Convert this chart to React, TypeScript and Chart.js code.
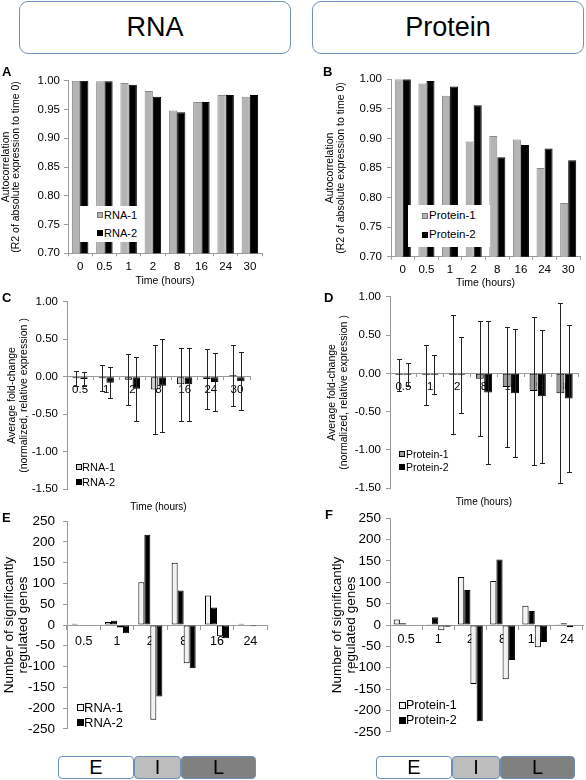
import React, { useEffect, useRef } from 'react';
import { Chart, registerables } from 'chart.js';
Chart.register(...registerables);

const FONT = "'Liberation Sans', Arial, Helvetica, sans-serif";
const AXIS = '#9a9a9a';

// ---- Panel A / B: autocorrelation ----
const autoCats = ['0', '0.5', '1', '2', '8', '16', '24', '30'];
const rnaAuto1 = [1.0, 0.999, 0.996, 0.982, 0.948, 0.963, 0.975, 0.972];
const rnaAuto2 = [1.0, 0.999, 0.993, 0.972, 0.945, 0.963, 0.975, 0.975];
const protAuto1 = [1.0, 0.993, 0.972, 0.895, 0.904, 0.898, 0.85, 0.791];
const protAuto2 = [1.0, 0.997, 0.988, 0.956, 0.868, 0.889, 0.883, 0.863];

// ---- Panel C / D: average fold-change (mean, sd) ----
const foldCats = ['0.5', '1', '2', '8', '16', '24', '30'];
const rnaFold1 = [-0.02, -0.02, -0.04, -0.17, -0.1, -0.03, 0.02];
const rnaFoldSd1 = [0.1, 0.175, 0.34, 0.6, 0.49, 0.4, 0.41];
const rnaFold2 = [-0.03, -0.08, -0.16, -0.12, -0.1, -0.07, -0.06];
const rnaFoldSd2 = [0.1, 0.21, 0.43, 0.62, 0.49, 0.39, 0.39];
const protFold1 = [-0.02, -0.02, -0.02, -0.07, -0.18, -0.23, -0.26];
const protFoldSd1 = [0.21, 0.39, 0.78, 0.755, 0.79, 0.97, 1.18];
const protFold2 = [-0.02, -0.02, -0.02, -0.25, -0.26, -0.3, -0.33];
const protFoldSd2 = [0.15, 0.255, 0.5, 0.93, 0.84, 0.87, 0.965];

// ---- Panel E / F: number of significantly regulated genes ----
const regCats = ['0.5', '1', '2', '8', '16', '24'];
const rnaUp1 = [3, 7, 103, 150, 71, 3];
const rnaUp2 = [0, 10, 217, 83, 42, 0];
const rnaDown1 = [0, -6, -228, -92, -27, -3];
const rnaDown2 = [0, -20, -172, -104, -32, 0];
const protUp1 = [13, 2, 112, 103, 45, 2];
const protUp2 = [4, 18, 82, 153, 33, 4];
const protDown1 = [0, -12, -138, -127, -52, -5];
const protDown2 = [0, -4, -225, -82, -40, 0];

type Rect = { x: number; y: number; w: number; h: number };
type Area = { l: number; t: number; r: number; b: number };

function makeErrorBars(errors: number[][]) {
  return {
    id: 'errorBars',
    afterDatasetsDraw(chart: any) {
      const ctx = chart.ctx;
      const ys = chart.scales.y;
      ctx.save();
      ctx.strokeStyle = '#222';
      ctx.lineWidth = 1;
      const cap = 2.5;
      chart.data.datasets.forEach((ds: any, di: number) => {
        const e = errors[di];
        if (!e) return;
        const meta = chart.getDatasetMeta(di);
        meta.data.forEach((el: any, i: number) => {
          const v = ds.data[i];
          const x = Math.round(el.x) + 0.5;
          const t = Math.round(ys.getPixelForValue(v + e[i])) + 0.5;
          const b = Math.round(ys.getPixelForValue(v - e[i])) + 0.5;
          ctx.beginPath();
          ctx.moveTo(x, t); ctx.lineTo(x, b);
          ctx.moveTo(x - cap, t); ctx.lineTo(x + cap, t);
          ctx.moveTo(x - cap, b); ctx.lineTo(x + cap, b);
          ctx.stroke();
        });
      });
      ctx.restore();
    },
  };
}

interface Spec {
  rect: Rect;
  area: Area;
  cats: string[];
  datasets: any[];
  yMin: number; yMax: number; yStep: number; yDec: number;
  yFont: number; yTickLen: number; yPad: number;
  yTitle: string[]; yTitleFont: number; yTitleLH: number; yTitleX: number;
  xFont: number; xTickLen: number; xPad: number; xAtZero: boolean;
  xTitle?: { y: number; font: number };
  errors?: number[][];
}

function buildConfig(s: Spec) {
  const padTop = s.area.t - s.rect.y;
  const padRight = s.rect.x + s.rect.w - s.area.r;
  const yWidth = s.area.l - s.rect.x;
  const bottomSpace = s.rect.y + s.rect.h - s.area.b;
  const yLine = s.yTitleFont * s.yTitleLH;
  const xTitleCfg = s.xTitle
    ? {
        display: true,
        text: 'Time (hours)',
        color: '#000',
        font: { family: FONT, size: s.xTitle.font, lineHeight: 1.2 },
        padding: { top: 0, bottom: s.rect.y + s.rect.h - s.xTitle.y - (s.xTitle.font * 1.2) / 2 },
      }
    : { display: false };
  const scales: any = {
    y: {
      type: 'linear',
      min: s.yMin,
      max: s.yMax,
      ticks: {
        stepSize: s.yStep,
        color: '#000',
        padding: s.yPad,
        font: { family: FONT, size: s.yFont },
        callback: (v: any) => (Math.abs(Number(v)) < 1e-9 ? 0 : Number(v)).toFixed(s.yDec),
      },
      grid: { drawOnChartArea: false, drawTicks: true, tickLength: s.yTickLen, color: AXIS },
      border: { color: AXIS, width: 1 },
      title: {
        display: true,
        text: s.yTitle,
        color: '#000',
        font: { family: FONT, size: s.yTitleFont, lineHeight: s.yTitleLH },
        padding: { top: s.yTitleX - s.rect.x - yLine / 2, bottom: 0 },
      },
      afterFit: (sc: any) => { sc.width = yWidth; },
    },
    x: {
      type: 'category',
      grid: { drawOnChartArea: false, drawTicks: true, tickLength: s.xTickLen, color: AXIS, offset: true },
      border: { color: AXIS, width: 1 },
      ticks: { color: '#000', padding: s.xPad, maxRotation: 0, autoSkip: false, font: { family: FONT, size: s.xFont } },
    },
  };
  let padBottom = 0;
  if (s.xAtZero) {
    scales.x.position = { y: 0 };
    if (s.xTitle) {
      scales.x2 = {
        type: 'category',
        position: 'bottom',
        labels: s.cats,
        grid: { display: false, drawTicks: false },
        border: { display: false },
        ticks: { display: false },
        title: xTitleCfg,
        afterFit: (sc: any) => { sc.height = bottomSpace; },
      };
    } else {
      padBottom = bottomSpace;
    }
  } else {
    scales.x.title = xTitleCfg;
    scales.x.afterFit = (sc: any) => { sc.height = bottomSpace; };
  }
  return {
    type: 'bar',
    data: { labels: s.cats, datasets: s.datasets },
    options: {
      responsive: false,
      animation: false,
      devicePixelRatio: 1,
      layout: { padding: { top: padTop, right: padRight, left: 0, bottom: padBottom } },
      plugins: { legend: { display: false }, tooltip: { enabled: false } },
      scales,
    },
    plugins: s.errors ? [makeErrorBars(s.errors)] : [],
  };
}

function ChartBox({ spec }: { spec: Spec }) {
  const ref = useRef<HTMLCanvasElement>(null);
  useEffect(() => {
    const c = new Chart(ref.current as HTMLCanvasElement, buildConfig(spec) as any);
    return () => c.destroy();
  }, []);
  const r = spec.rect;
  return (
    <canvas
      ref={ref}
      width={r.w}
      height={r.h}
      style={{ position: 'absolute', left: r.x, top: r.y, width: r.w, height: r.h }}
    />
  );
}

function bar(label: string, data: number[], fill: string, stroke: string, cp: number, bp: number) {
  return {
    label,
    data,
    backgroundColor: fill,
    borderColor: stroke,
    borderWidth: 1,
    borderSkipped: false,
    categoryPercentage: cp,
    barPercentage: bp,
  };
}

const GRAY_A = '#b4b4b4';
const GRAY_C = '#cfcfcf';
const GRAY_D = '#9c9c9c';
const LIGHT_E = '#f2f2ee';

const specA: Spec = {
  rect: { x: 0, y: 62, w: 272, h: 226 },
  area: { l: 68, t: 80.7, r: 262, b: 253.3 },
  cats: autoCats,
  datasets: [
    bar('RNA-1', rnaAuto1, GRAY_A, '#8a8a8a', 0.68, 1),
    bar('RNA-2', rnaAuto2, '#000', '#000', 0.68, 1),
  ],
  yMin: 0.7, yMax: 1.0, yStep: 0.05, yDec: 2, yFont: 11.5, yTickLen: 4, yPad: 4,
  yTitle: ['Autocorrelation', '(R2 of absolute expression to time 0)'], yTitleFont: 10.5, yTitleLH: 1.0, yTitleX: 6,
  xFont: 11.5, xTickLen: 3, xPad: 3.5, xAtZero: false,
  xTitle: { y: 280.7, font: 10.5 },
};

const specB: Spec = {
  rect: { x: 293, y: 62, w: 293, h: 229 },
  area: { l: 391, t: 79.3, r: 580, b: 256.7 },
  cats: autoCats,
  datasets: [
    bar('Protein-1', protAuto1, GRAY_A, '#8a8a8a', 0.68, 1),
    bar('Protein-2', protAuto2, '#000', '#000', 0.68, 1),
  ],
  yMin: 0.7, yMax: 1.0, yStep: 0.05, yDec: 2, yFont: 11.5, yTickLen: 4, yPad: 5,
  yTitle: ['Autocorrelation', '(R2 of absolute expression to time 0)'], yTitleFont: 10.5, yTitleLH: 1.1, yTitleX: 330,
  xFont: 11.5, xTickLen: 3, xPad: 3.4, xAtZero: false,
  xTitle: { y: 282.7, font: 10.5 },
};

const specC: Spec = {
  rect: { x: 0, y: 290, w: 270, h: 224 },
  area: { l: 67, t: 300.5, r: 250, b: 489 },
  cats: foldCats,
  datasets: [
    bar('RNA-1', rnaFold1, GRAY_C, '#000', 0.6, 0.95),
    bar('RNA-2', rnaFold2, '#000', '#000', 0.6, 0.95),
  ],
  yMin: -1.5, yMax: 1.0, yStep: 0.5, yDec: 2, yFont: 11.5, yTickLen: 4, yPad: 5,
  yTitle: ['Average fold-change', '(normalized, relative expression )'], yTitleFont: 10.5, yTitleLH: 1.07, yTitleX: 12.5,
  xFont: 11.5, xTickLen: 3, xPad: 3.4, xAtZero: true,
  xTitle: { y: 507, font: 10 },
  errors: [rnaFoldSd1, rnaFoldSd2],
};

const specD: Spec = {
  rect: { x: 293, y: 285, w: 293, h: 224 },
  area: { l: 390, t: 295, r: 578, b: 488 },
  cats: foldCats,
  datasets: [
    bar('Protein-1', protFold1, GRAY_D, '#000', 0.62, 0.95),
    bar('Protein-2', protFold2, '#000', '#000', 0.62, 0.95),
  ],
  yMin: -1.5, yMax: 1.0, yStep: 0.5, yDec: 2, yFont: 11.5, yTickLen: 4, yPad: 5,
  yTitle: ['Average fold-change', '(normalized, relative expression )'], yTitleFont: 10.5, yTitleLH: 1.2, yTitleX: 331.7,
  xFont: 11.5, xTickLen: 3, xPad: 3.8, xAtZero: true,
  xTitle: { y: 502, font: 10 },
  errors: [protFoldSd1, protFoldSd2],
};

const specE: Spec = {
  rect: { x: 0, y: 505, w: 275, h: 240 },
  area: { l: 67, t: 517.3, r: 267, b: 736.7 },
  cats: regCats,
  datasets: [
    bar('RNA-1 up', rnaUp1, LIGHT_E, '#000', 0.72, 1),
    bar('RNA-2 up', rnaUp2, '#000', '#000', 0.72, 1),
    bar('RNA-1 down', rnaDown1, LIGHT_E, '#000', 0.72, 1),
    bar('RNA-2 down', rnaDown2, '#000', '#000', 0.72, 1),
  ],
  yMin: -250, yMax: 250, yStep: 50, yDec: 0, yFont: 13.5, yTickLen: 4, yPad: 8,
  yTitle: ['Number of significantly', 'regulated genes'], yTitleFont: 13.5, yTitleLH: 1.05, yTitleX: 9.2,
  xFont: 12.5, xTickLen: 4, xPad: 4.8, xAtZero: true,
};

const specF: Spec = {
  rect: { x: 293, y: 505, w: 293, h: 240 },
  area: { l: 390, t: 517.3, r: 583, b: 736 },
  cats: regCats,
  datasets: [
    bar('Protein-1 up', protUp1, LIGHT_E, '#000', 0.77, 1),
    bar('Protein-2 up', protUp2, '#000', '#000', 0.77, 1),
    bar('Protein-1 down', protDown1, LIGHT_E, '#000', 0.77, 1),
    bar('Protein-2 down', protDown2, '#000', '#000', 0.77, 1),
  ],
  yMin: -250, yMax: 250, yStep: 50, yDec: 0, yFont: 13.5, yTickLen: 4, yPad: 5,
  yTitle: ['Number of significantly', 'regulated genes'], yTitleFont: 13.5, yTitleLH: 1.05, yTitleX: 337,
  xFont: 12.5, xTickLen: 4, xPad: 3.5, xAtZero: true,
};

type LegendItem = { label: string; fill: string; stroke: string };

function Legend({ rows, sqX, textX, size, sq, items, box }: {
  rows: number[]; sqX: number; textX: number; size: number; sq: number; items: LegendItem[];
  box?: { x: number; y: number; w: number; h: number };
}) {
  return (
    <>
      {box && (
        <div style={{ position: 'absolute', left: box.x, top: box.y, width: box.w, height: box.h, background: '#fff' }} />
      )}
      {items.map((it, i) => (
        <React.Fragment key={i}>
          <div
            style={{
              position: 'absolute', left: sqX, top: rows[i] - sq / 2, width: sq, height: sq,
              background: it.fill, border: `1px solid ${it.stroke}`, boxSizing: 'border-box',
            }}
          />
          <div
            style={{
              position: 'absolute', left: textX, top: rows[i] - size / 2, fontSize: size, lineHeight: `${size}px`,
              fontFamily: FONT, color: '#000', whiteSpace: 'nowrap',
            }}
          >
            {it.label}
          </div>
        </React.Fragment>
      ))}
    </>
  );
}

function Letter({ x, y, t }: { x: number; y: number; t: string }) {
  return (
    <div style={{ position: 'absolute', left: x, top: y - 7, fontSize: 13, lineHeight: '14px', fontWeight: 'bold', fontFamily: FONT, color: '#000' }}>
      {t}
    </div>
  );
}

function Header({ x, w, t }: { x: number; w: number; t: string }) {
  return (
    <div
      style={{
        position: 'absolute', left: x, top: 1, width: w, height: 53, boxSizing: 'border-box',
        border: '1.5px solid #7093bd', borderRadius: 9, display: 'flex', alignItems: 'center',
        justifyContent: 'center', fontFamily: FONT, fontSize: 27, color: '#000', background: '#fff',
      }}
    >
      {t}
    </div>
  );
}

const phaseLabels = ['E', 'I', 'L'];
const phaseFills = ['#ffffff', '#bdbdbd', '#808080'];

function Phases({ xs }: { xs: number[] }) {
  return (
    <>
      {phaseLabels.map((p, i) => (
        <div
          key={p}
          style={{
            position: 'absolute', left: xs[i], top: 756, width: xs[i + 1] - xs[i], height: 23, boxSizing: 'border-box',
            border: '1.2px solid #6b8fb9', borderRadius: 4, background: phaseFills[i], display: 'flex',
            alignItems: 'center', justifyContent: 'center', fontFamily: FONT, fontSize: 20, color: '#000',
          }}
        >
          {p}
        </div>
      ))}
    </>
  );
}

export default function App() {
  return (
    <div style={{ position: 'absolute', left: 0, top: 0, width: 586, height: 780, background: '#fff', overflow: 'hidden' }}>
      <Header x={19} w={272} t="RNA" />
      <Header x={312} w={272} t="Protein" />

      <ChartBox spec={specA} />
      <ChartBox spec={specB} />
      <ChartBox spec={specC} />
      <ChartBox spec={specD} />
      <ChartBox spec={specE} />
      <ChartBox spec={specF} />

      <Letter x={2} y={72} t="A" />
      <Letter x={323} y={72} t="B" />
      <Letter x={2} y={298} t="C" />
      <Letter x={324} y={298} t="D" />
      <Letter x={2} y={518} t="E" />
      <Letter x={325} y={515} t="F" />

      <Legend
        box={{ x: 80, y: 206, w: 63, h: 36 }}
        rows={[215, 233]} sqX={97} textX={104} size={11} sq={6}
        items={[{ label: 'RNA-1', fill: GRAY_A, stroke: '#777' }, { label: 'RNA-2', fill: '#000', stroke: '#000' }]}
      />
      <Legend
        box={{ x: 408, y: 205, w: 82, h: 42 }}
        rows={[216, 235]} sqX={422} textX={429} size={11.5} sq={6}
        items={[{ label: 'Protein-1', fill: GRAY_A, stroke: '#777' }, { label: 'Protein-2', fill: '#000', stroke: '#000' }]}
      />
      <Legend
        rows={[467, 482]} sqX={76} textX={82} size={11} sq={6}
        items={[{ label: 'RNA-1', fill: GRAY_C, stroke: '#000' }, { label: 'RNA-2', fill: '#000', stroke: '#000' }]}
      />
      <Legend
        rows={[454, 467]} sqX={399} textX={406} size={10.5} sq={6}
        items={[{ label: 'Protein-1', fill: GRAY_D, stroke: '#000' }, { label: 'Protein-2', fill: '#000', stroke: '#000' }]}
      />
      <Legend
        rows={[707, 722]} sqX={77} textX={84} size={13} sq={7}
        items={[{ label: 'RNA-1', fill: LIGHT_E, stroke: '#000' }, { label: 'RNA-2', fill: '#000', stroke: '#000' }]}
      />
      <Legend
        rows={[705, 720]} sqX={399} textX={406} size={12.5} sq={7}
        items={[{ label: 'Protein-1', fill: LIGHT_E, stroke: '#000' }, { label: 'Protein-2', fill: '#000', stroke: '#000' }]}
      />

      <Phases xs={[58, 134, 181, 256]} />
      <Phases xs={[376, 452, 500, 575]} />
    </div>
  );
}
